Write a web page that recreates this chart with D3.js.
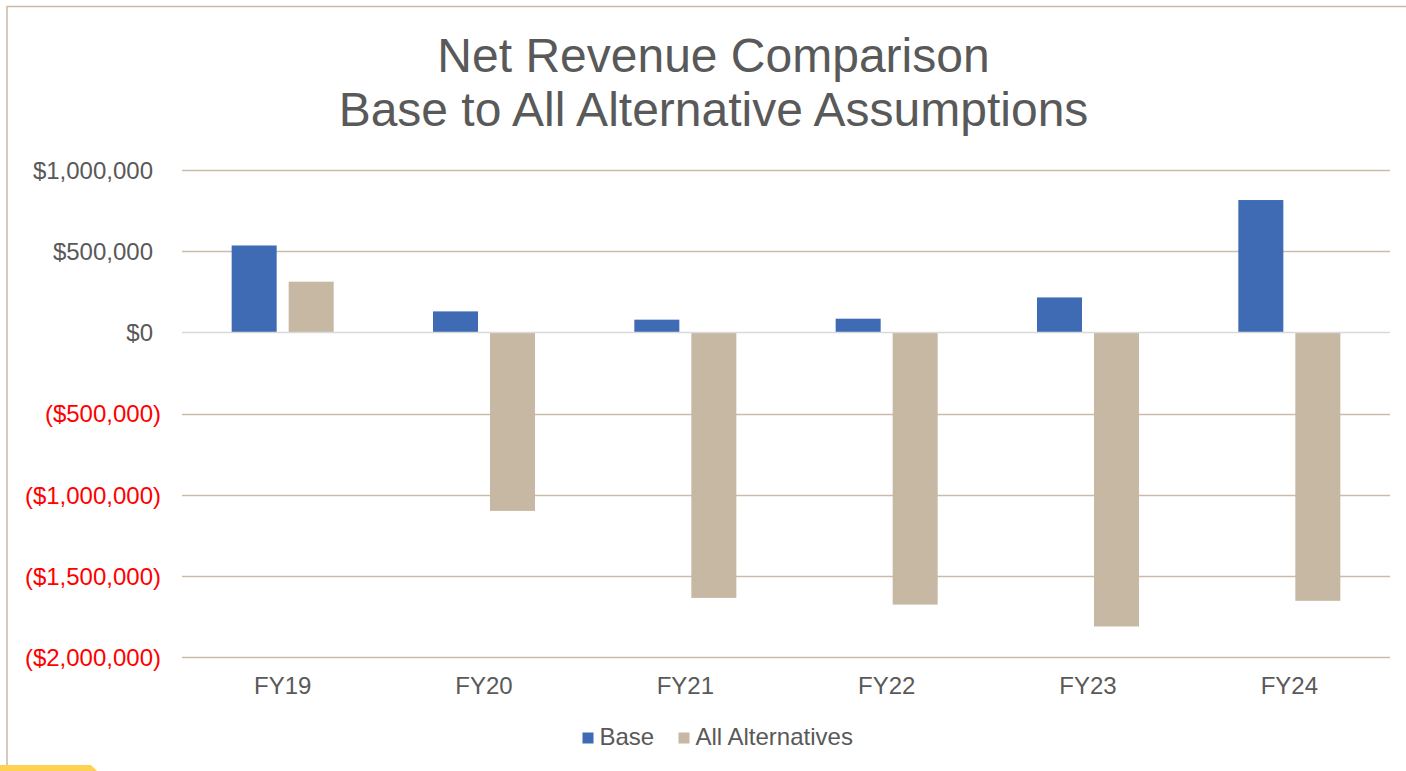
<!DOCTYPE html>
<html><head><meta charset="utf-8">
<script src="https://cdn.jsdelivr.net/npm/d3@7"></script>
<style>html,body{margin:0;padding:0;background:#fff;overflow:hidden}svg{display:block}</style>
</head><body>
<svg id="chart" width="1406" height="771"></svg>
<script>
const categories = ["FY19","FY20","FY21","FY22","FY23","FY24"];
const seriesNames = ["Base","All Alternatives"];
const baseValues = [535000, 129000, 78000, 84000, 215000, 815000];
const altValues = [312000, -1100000, -1636000, -1677000, -1812000, -1654000];
const tickValues = [1000000, 500000, 0, -500000, -1000000, -1500000, -2000000];
const titleLines = ["Net Revenue Comparison","Base to All Alternative Assumptions"];

(function(){
const colors = {"Base":"#3e6bb4","All Alternatives":"#c7b8a3"};
const font = "'Liberation Sans', Arial, sans-serif";
const fs = "24px";
const svg = d3.select("#chart");
const W = 1406, H = 771;

// frame
svg.append("line").attr("x1",7).attr("x2",W).attr("y1",6.5).attr("y2",6.5).attr("stroke","#c9b9a5").attr("stroke-width",1.5);
svg.append("line").attr("x1",7).attr("x2",7).attr("y1",6).attr("y2",H).attr("stroke","#c9b9a5").attr("stroke-width",1.5);
// yellow tab at bottom-left
svg.append("path").attr("d","M0,765 L91,765 L97,771 L0,771 Z").attr("fill","#ffd152");

const pL = 182, pR = 1390, pT = 170, pB = 657;
const y = d3.scaleLinear().domain([-2000000, 1000000]).range([pB, pT]);
const x0 = d3.scaleBand().domain(categories).range([pL, pR]).padding(0);
const x1 = d3.scaleBand().domain(seriesNames).range([0, x0.bandwidth()]).paddingInner(0.2105).paddingOuter(0.871);

const fmt = v => {
  const s = "$" + d3.format(",")(Math.abs(v));
  return v < 0 ? "(" + s + ")" : s;
};

// gridlines
svg.append("g").selectAll("line").data(tickValues.filter(v=>v!==0)).join("line")
  .attr("x1",pL).attr("x2",pR)
  .attr("y1",d=>Math.round(y(d))+0.5).attr("y2",d=>Math.round(y(d))+0.5)
  .attr("stroke","#cbbca9").attr("stroke-width",1.5);

// y axis labels (accounting style: positive values leave room for the closing paren)
const yAxis = d3.axisLeft(y).tickValues(tickValues).tickFormat(fmt).tickSize(0).tickPadding(0);
const ya = svg.append("g").attr("transform","translate(161,0)").call(yAxis);
ya.select(".domain").remove();
ya.selectAll("text").attr("font-family",font).attr("font-size",fs)
  .attr("fill",d=>d<0?"#ff0000":"#595959").attr("dy","0.35em")
  .attr("x",d=>d<0?0:-8);

// bars
const rows = categories.map((c,i)=>({cat:c, vals:[{s:"Base",v:baseValues[i]},{s:"All Alternatives",v:altValues[i]}]}));
const g = svg.append("g").selectAll("g").data(rows).join("g").attr("transform",d=>`translate(${x0(d.cat)},0)`);
g.selectAll("rect").data(d=>d.vals).join("rect")
  .attr("x",d=>x1(d.s)).attr("width",x1.bandwidth())
  .attr("y",d=>y(Math.max(0,d.v))).attr("height",d=>Math.abs(y(d.v)-y(0)))
  .attr("fill",d=>colors[d.s]);

// zero line
svg.append("line").attr("x1",pL).attr("x2",pR).attr("y1",Math.round(y(0))+0.5).attr("y2",Math.round(y(0))+0.5)
  .attr("stroke","#d9d9d9").attr("stroke-width",1.5);

// x axis labels
const xAxis = d3.axisBottom(x0).tickSize(0).tickPadding(0);
const xa = svg.append("g").attr("transform","translate(0,694)").call(xAxis);
xa.select(".domain").remove();
xa.selectAll("text").attr("font-family",font).attr("font-size",fs).attr("fill","#595959").attr("dy","0");

// title
svg.append("g").selectAll("text").data(titleLines).join("text")
  .attr("x",713.5).attr("y",(d,i)=>72+i*54).attr("text-anchor","middle")
  .attr("font-family",font).attr("font-size","48px").attr("fill","#595959").text(d=>d);

// legend
const legendX = [582.5, 678.5];
const lg = svg.append("g").selectAll("g").data(seriesNames).join("g").attr("transform",(d,i)=>`translate(${legendX[i]},0)`);
lg.append("rect").attr("x",0).attr("y",732.5).attr("width",11).attr("height",11).attr("fill",d=>colors[d]);
lg.append("text").attr("x",17).attr("y",744.5).attr("font-family",font).attr("font-size",fs).attr("fill","#595959").text(d=>d);
})();
</script>
</body></html>
